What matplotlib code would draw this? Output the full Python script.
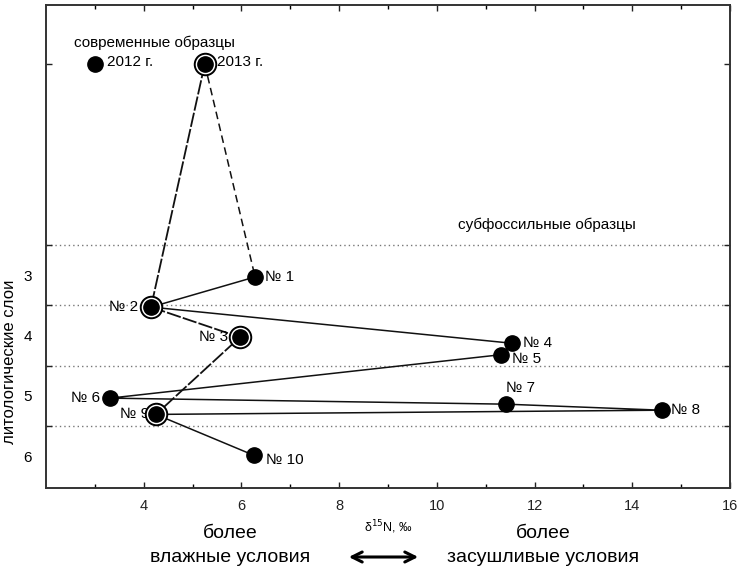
import matplotlib.pyplot as plt
from matplotlib.ticker import FixedLocator, NullFormatter

plt.rcParams['font.family'] = ['Liberation Sans', 'DejaVu Sans']

# samples: label, d15N value, position on the layer axis
names = ['2012 г.', '2013 г.', '№ 1', '№ 2', '№ 3', '№ 4', '№ 5', '№ 6',
         '№ 7', '№ 8', '№ 9', '№ 10']
d15n = [3.0, 5.25, 6.28, 4.15, 5.97, 11.54, 11.31, 3.31, 11.41, 14.6, 4.25, 6.26]
depth = [-0.5, -0.5, 3.03, 3.53, 4.03, 4.13, 4.32, 5.04, 5.14, 5.24, 5.31, 5.99]
ringed = ['2013 г.', '№ 2', '№ 3', '№ 9']

solid_path = ['№ 1', '№ 2', '№ 4', '№ 5', '№ 6', '№ 7', '№ 8', '№ 9', '№ 10']
longdash_path = ['2013 г.', '№ 2', '№ 3', '№ 9']
dashed_path = ['2013 г.', '№ 1']

layer_bounds = [2.5, 3.5, 4.5, 5.5]
layer_labels = [3, 4, 5, 6]

# label offsets in points (dx, dy, ha)
offsets = {
    '2012 г.': (9, 1.5, 'left'), '2013 г.': (8.5, 1.5, 'left'),
    '№ 1': (7, 0, 'left'), '№ 2': (-9, 0, 'right'), '№ 3': (-8.5, 0, 'right'),
    '№ 4': (8, 0, 'left'), '№ 5': (8, -3, 'left'), '№ 6': (-7, 0, 'right'),
    '№ 7': (0, 11.5, 'left'), '№ 8': (7, 0, 'left'), '№ 9': (-5, 0, 'right'),
    '№ 10': (8.5, -3, 'left'),
}

pos = {n: (x, y) for n, x, y in zip(names, d15n, depth)}


def path_xy(path):
    return [pos[n][0] for n in path], [pos[n][1] for n in path]


fig = plt.figure(figsize=(7.39, 5.69), dpi=100)
ax = fig.add_axes([0.0622, 0.1424, 0.9256, 0.8488])

for b in layer_bounds:
    ax.axhline(b, color='#777777', lw=1.0, ls=(0, (1, 2.2)), zorder=1)

xs, ys = path_xy(solid_path)
ax.plot(xs, ys, color='#111111', lw=1.1, zorder=2)
xs, ys = path_xy(longdash_path)
ax.plot(xs, ys, color='#111111', lw=1.3, ls=(0, (8, 1.2)), zorder=2)
xs, ys = path_xy(dashed_path)
ax.plot(xs, ys, color='#111111', lw=1.1, ls=(0, (5, 3)), zorder=2)

for n in ringed:
    ax.plot(*pos[n], 'o', ms=15.5, mfc='white', mec='black', mew=1.4, zorder=3)
ax.plot(d15n, depth, 'o', ms=11, color='black', ls='none', zorder=4)

for n in names:
    dx, dy, ha = offsets[n]
    ax.annotate(n, pos[n], xytext=(dx, dy), textcoords='offset points',
                ha=ha, va='center', fontsize=11, zorder=2.5)

ax.text(4.23, -0.85, 'современные образцы', fontsize=11, ha='center', va='center')
ax.text(12.25, 2.17, 'субфоссильные образцы', fontsize=11, ha='center', va='center')

ax.set_xlim(2, 16)
ax.set_ylim(6.53, -1.48)

ax.xaxis.set_major_locator(FixedLocator([4, 6, 8, 10, 12, 14, 16]))
ax.xaxis.set_minor_locator(FixedLocator([3, 5, 7, 9, 11, 13, 15]))
ax.yaxis.set_major_locator(FixedLocator([-0.5] + layer_bounds))
ax.yaxis.set_major_formatter(NullFormatter())
ax.yaxis.set_minor_locator(FixedLocator(layer_labels))
ax.yaxis.set_minor_formatter(plt.FixedFormatter([str(v) for v in layer_labels]))

ax.tick_params(axis='both', which='major', direction='in', length=4, width=1,
               top=True, right=True, labelsize=10.5, colors='#222222')
ax.tick_params(axis='x', which='minor', direction='in', length=3, width=1,
               top=True, bottom=True)
ax.tick_params(axis='x', which='major', pad=8)
ax.tick_params(axis='y', which='minor', length=0, pad=10, labelsize=11)

for s in ax.spines.values():
    s.set_linewidth(1.4)
    s.set_color('#333333')

fig.text(10 / 739, 1 - 362 / 569, 'литологические слои', rotation=90,
         fontsize=12, ha='center', va='center')

fig.text(230 / 739, 1 - 534 / 569, 'более', fontsize=14, ha='center', va='center')
fig.text(230 / 739, 1 - 557 / 569, 'влажные условия', fontsize=14, ha='center', va='center')
fig.text(543 / 739, 1 - 534 / 569, 'более', fontsize=14, ha='center', va='center')
fig.text(543 / 739, 1 - 557 / 569, 'засушливые условия', fontsize=14, ha='center', va='center')
fig.text(388 / 739, 1 - 527 / 569, r'δ$^{15}$N, ‰', fontsize=9, ha='center', va='center')
fig.patches.append(plt.matplotlib.patches.FancyArrowPatch(
    (346 / 739, 1 - 557 / 569), (421 / 739, 1 - 557 / 569),
    transform=fig.transFigure, arrowstyle='<->', mutation_scale=18,
    lw=2.2, color='black'))

fig.savefig('out.png', dpi=100)
